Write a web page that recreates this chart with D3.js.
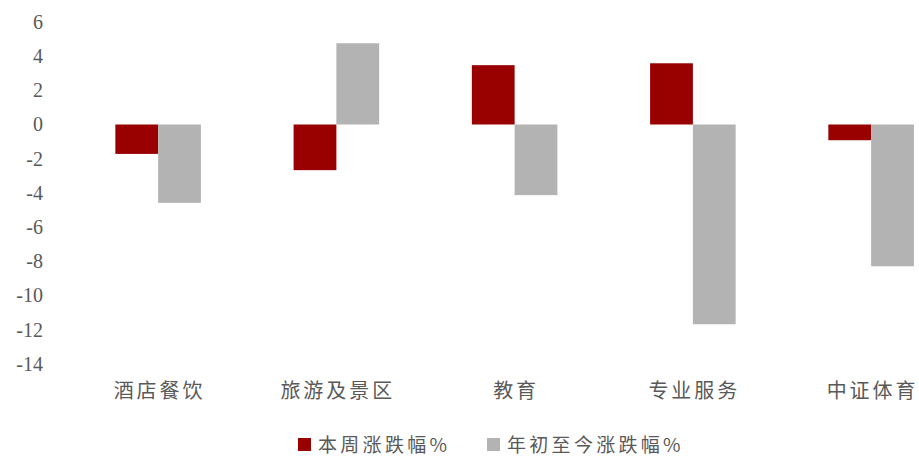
<!DOCTYPE html>
<html>
<head>
<meta charset="utf-8">
<script src="https://cdn.jsdelivr.net/npm/d3@7"></script>
<style>
  html, body { margin: 0; padding: 0; background: #fff; }
  svg { display: block; }
</style>
</head>
<body>
<svg id="chart" width="919" height="456"></svg>
<script>
// Sector returns: weekly change vs. year-to-date change (%)
const categories = ["酒店餐饮", "旅游及景区", "教育", "专业服务", "中证体育"];
const seriesNames = ["本周涨跌幅%", "年初至今涨跌幅%"];
const weekly = [-1.72, -2.67, 3.47, 3.58, -0.92];
const ytd = [-4.58, 4.75, -4.13, -11.68, -8.29];
const yTicks = [6, 4, 2, 0, -2, -4, -6, -8, -10, -12, -14];
const colors = ["#990000", "#b3b3b3"];

const svg = d3.select("#chart");
const textColor = "#595959";
const cjkFont = "'Noto Sans CJK SC', sans-serif";
const numFont = "'Liberation Serif', 'Times New Roman', serif";

const y = d3.scaleLinear().domain([-14, 6]).range([363.9, 21.9]);

const x0 = d3.scaleBand()
  .domain(categories)
  .range([69, 960.25])
  .paddingInner(0.52)
  .paddingOuter(0.26);

const x1 = d3.scaleBand()
  .domain(seriesNames)
  .range([0, x0.bandwidth()]);

const rows = categories.map((c, i) => ({
  category: c,
  values: [
    { name: seriesNames[0], value: weekly[i] },
    { name: seriesNames[1], value: ytd[i] }
  ]
}));

// Bars
const groups = svg.append("g").selectAll("g")
  .data(rows)
  .join("g")
  .attr("transform", d => `translate(${x0(d.category)},0)`);

groups.selectAll("rect")
  .data(d => d.values)
  .join("rect")
  .attr("x", d => x1(d.name))
  .attr("width", x1.bandwidth())
  .attr("y", d => y(Math.max(0, d.value)))
  .attr("height", d => Math.abs(y(d.value) - y(0)))
  .attr("fill", (d, i) => colors[i]);

// Y axis (labels only)
const yAxis = svg.append("g")
  .attr("transform", "translate(46,0)")
  .call(d3.axisLeft(y).tickValues(yTicks).tickFormat(d => String(d)).tickSize(0).tickPadding(3));
yAxis.select(".domain").remove();
yAxis.selectAll("text")
  .attr("fill", textColor)
  .style("font-family", numFont)
  .style("font-size", "20px");

// X axis category labels
const xAxis = svg.append("g")
  .attr("transform", "translate(1.5,384)")
  .call(d3.axisBottom(x0).tickSize(0).tickPadding(0));
xAxis.select(".domain").remove();
xAxis.selectAll("text")
  .attr("fill", textColor)
  .style("font-family", cjkFont)
  .style("font-size", "20px")
  .style("letter-spacing", "3px");

// Legend
const legendX = [298, 487];
const legend = svg.append("g").selectAll("g")
  .data(seriesNames)
  .join("g")
  .attr("transform", (d, i) => `translate(${legendX[i]},438)`);
legend.append("rect")
  .attr("width", 13)
  .attr("height", 13)
  .attr("fill", (d, i) => colors[i]);
legend.append("text")
  .attr("x", 20)
  .attr("y", 7)
  .attr("dy", "0.35em")
  .attr("fill", textColor)
  .style("font-family", cjkFont)
  .style("font-size", "19px")
  .style("letter-spacing", "3.3px")
  .text(d => d);
</script>
</body>
</html>
